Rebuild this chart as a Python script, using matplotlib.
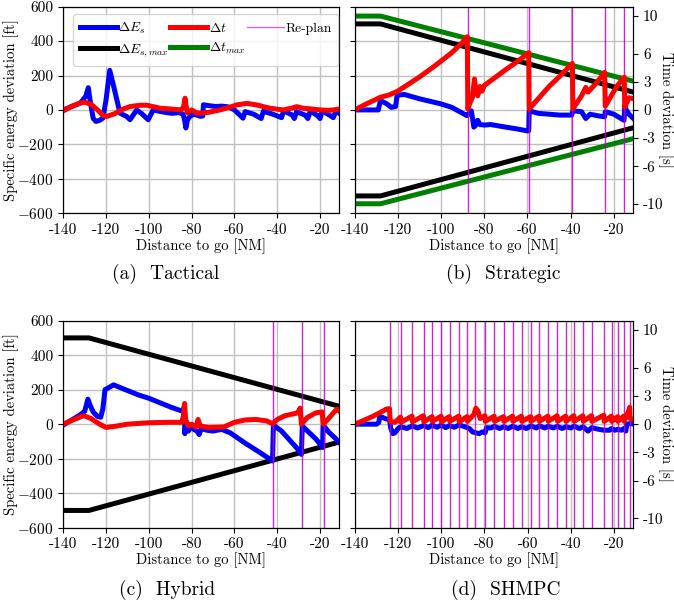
import matplotlib
matplotlib.use('Agg')
import matplotlib.pyplot as plt
from matplotlib.lines import Line2D

plt.rcParams['font.family'] = 'serif'
plt.rcParams['font.serif'] = ['cmr10', 'DejaVu Serif']
plt.rcParams['mathtext.fontset'] = 'cm'
plt.rcParams['axes.unicode_minus'] = False
plt.rcParams['axes.formatter.use_mathtext'] = True

# ---------------- data ----------------
xticks = [-140, -120, -100, -80, -60, -40, -20]
xticklabels = ['-140', '-120', '-100', '-80', '-60', '-40', '-20']
e_ticks = [-600, -400, -200, 0, 200, 400, 600]
e_ticklabels = ['$-$600', '$-$400', '$-$200', '0', '200', '400', '600']
t_ticks = [-10, -6, -3, 0, 3, 6, 10]
t_ticklabels = ['-10', '-6', '-3', '0', '3', '6', '10']

bound_x = [-140, -128, -10]
es_max = [500, 500, 100]
t_max = [10, 10, 3]

# (a) Tactical
a_es = [(-140, 0), (-136, 20), (-132, 40), (-129.5, 80), (-128.3, 129), (-127.3, 40),
        (-126, -50), (-124.7, -67), (-123, -60), (-121.5, -48), (-120, 60), (-118.3, 230),
        (-116.5, 140), (-113.5, -19), (-110.4, -38), (-108.8, -57), (-105.7, 0), (-103.5, -20),
        (-100.3, -57), (-98, 0), (-95, -8), (-92, -15), (-89, -20), (-86, -15), (-84, -25),
        (-83.3, -60), (-82.7, -105), (-82, -60), (-81, -40), (-79.3, -25), (-77.5, -30),
        (-76, -37), (-74.8, -35), (-74.5, 30), (-72, 25), (-69, 20), (-66, 22), (-63, 18),
        (-60, 0), (-56, -48), (-55, -10), (-51, -25), (-47.5, -50), (-46.5, -8), (-42, -25),
        (-38, -45), (-37, -5), (-33, -30), (-32, -50), (-31, -10), (-27, -30), (-25.7, -50),
        (-24.5, -5), (-21, -35), (-20, -50), (-19, -5), (-15, -35), (-13.8, -45), (-12.5, -5),
        (-11, -20)]
a_dt = [(-140, -0.1), (-136, 0.4), (-132, 0.75), (-129.9, 0.82), (-127, 0.6), (-124, 0.0),
        (-121.5, -0.55), (-119.7, -0.7), (-116, -0.4), (-112, 0.1), (-108.8, 0.36), (-104, 0.5),
        (-101, 0.5), (-97, 0.3), (-94.8, 0.18), (-90, 0.1), (-85, 0.0), (-83.8, 0.3),
        (-83.1, 1.25), (-82.5, 0.3), (-82, -0.3), (-80, 0.0), (-78, -0.3), (-76, -0.35),
        (-72, -0.25), (-66.8, 0.0), (-62, 0.3), (-59, 0.53), (-54.3, 0.7), (-49.6, 0.53),
        (-43.4, 0.18), (-37.2, 0.0), (-33, 0.2), (-30.9, 0.35), (-28, 0.18), (-24, 0.1),
        (-20, 0.0), (-16, -0.05), (-13.8, 0.0), (-11, 0.1)]

# (b) Strategic
b_es = [(-140, 0), (-129, 0), (-128, 55), (-125, 35), (-123, 15), (-121, 20), (-120.3, 85),
        (-117, 90), (-110, 65), (-100, 35), (-95, 15), (-88, -33), (-87, -20), (-86, -5),
        (-85.5, -40), (-84.8, -100), (-84, -90), (-83, -60), (-82, -85), (-80, -88), (-77, -85),
        (-70, -100), (-65, -110), (-60, -122), (-59.4, -120), (-59.2, -5), (-55, -20),
        (-50, -25), (-45, -30), (-39.5, -30), (-39, -5), (-35, -10), (-33, -50), (-31, -25),
        (-27, -35), (-24.3, -40), (-24, -10), (-20, -25), (-16, -55), (-15.3, -60), (-15, 15),
        (-13, -25), (-11, -50)]
b_dt = [(-140, 0.0), (-134, 0.7), (-128, 1.35), (-124, 1.6), (-120, 2.0), (-116, 2.6),
        (-110, 3.5), (-104, 4.5), (-100, 5.2), (-95, 6.1), (-90, 7.2), (-87.8, 7.8),
        (-87.6, 0.1), (-86.5, 0.8), (-85.5, 1.3), (-84.5, 3.3), (-84, 2.2), (-83, 1.5),
        (-82, 2.5), (-81, 2.0), (-80, 2.6), (-70, 4.3), (-65, 5.1), (-59.4, 6.1), (-59.2, 0.1),
        (-50, 2.5), (-45, 3.6), (-39.2, 4.95), (-39, 0.1), (-35, 1.5), (-33, 2.4), (-32, 1.9),
        (-28, 2.9), (-24.3, 4.0), (-24, 0.4), (-20, 2.0), (-18, 2.7), (-15.2, 3.5), (-15, 0.3),
        (-13, 1.3), (-11, 1.2)]
b_replan = [-87.5, -59.3, -39.2, -24.1, -15.1]

# (c) Hybrid
c_es = [(-140, -5), (-136, 25), (-132, 55), (-130, 75), (-128.5, 145), (-127.5, 110),
        (-126, 70), (-124, 45), (-122.5, 40), (-121.5, 90), (-120.5, 200), (-119, 210),
        (-116.5, 228), (-113, 210), (-110, 195), (-105, 170), (-100, 150), (-95, 125),
        (-90, 100), (-85.5, 80), (-84, 75), (-83.5, 100), (-83.2, -55), (-82.5, 10),
        (-81.5, -40), (-80.5, -15), (-79, -30), (-77.5, -40), (-76.5, -60), (-75.5, -25),
        (-73, -35), (-70, -40), (-66, -30), (-62, -50), (-55, -110), (-48, -165),
        (-42.2, -213), (-41.8, -5), (-38, -40), (-34, -95), (-30, -150), (-28.7, -175),
        (-28.3, -10), (-25, -50), (-22, -85), (-18.8, -135), (-18.5, -5), (-16, -45),
        (-13, -80), (-11, -106)]
c_dt = [(-140, 0.0), (-135, 0.5), (-130.5, 0.9), (-127, 0.6), (-123, 0.0), (-120, -0.35),
        (-115, -0.2), (-110, 0.0), (-100, 0.15), (-90, 0.2), (-84.5, 0.2), (-83.8, 1.0),
        (-83.3, 2.2), (-82.8, 0.5), (-81.5, -0.2), (-80, 0.0), (-78, -0.3), (-77, 0.5),
        (-76, -0.2), (-72, -0.35), (-65, -0.3), (-60, 0.2), (-55, 0.45), (-50, 0.5),
        (-45, 0.35), (-42.2, 0.05), (-40, 0.5), (-36.4, 0.9), (-30.5, 1.2), (-29.3, 1.7),
        (-28.7, 0.0), (-26, 0.7), (-22, 1.2), (-19, 1.3), (-18.5, 0.0), (-16, 0.6),
        (-13, 1.4), (-12, 1.6), (-11, 1.4)]
c_replan = [-41.9, -28.3, -18.2]

# (d) SHMPC
d_es = [(-140, 0), (-130, 0), (-129, 10), (-128.5, 45), (-127, 38), (-125.5, 30), (-124, 28),
        (-123.5, -20), (-122.5, -55), (-121.5, -50), (-120, -25), (-118.7, -15), (-116, -25),
        (-113.5, -10), (-111, -22), (-108.2, -8), (-106, -20), (-104.2, -5), (-102, -18),
        (-100, -5), (-98, -20), (-96.2, -8), (-94, -18), (-91.8, -5), (-89, -15), (-87, -25),
        (-85.5, -45), (-84, -50), (-82.5, -55), (-81, -45), (-79.7, -50), (-79, -20),
        (-77, -22), (-75.4, -12), (-73, -25), (-71.1, -15), (-69, -25), (-66.9, -12),
        (-64.5, -25), (-62.8, -15), (-60.5, -25), (-58.5, -10), (-56, -22), (-54.6, -10),
        (-52, -22), (-50.5, -12), (-48, -22), (-46.2, -12), (-44, -25), (-42.3, -15),
        (-40, -22), (-38.5, -12), (-36, -25), (-34.3, -15), (-32, -40), (-30.3, -20),
        (-27, -30), (-24.6, -35), (-22, -35), (-21.1, -25), (-19.5, -35), (-18.2, -30),
        (-16.5, -35), (-15.4, -25), (-14.5, -40), (-14, 0), (-12, 5), (-11, 0)]
d_dt = [(-140, 0.0), (-132, 0.8), (-127, 1.4), (-125.5, 1.6), (-124, 1.65), (-123.7, 0.3),
        (-121.5, 0.2), (-118.9, 0.75), (-118.7, 0.2), (-113.6, 0.85), (-113.4, 0.25),
        (-108.3, 0.9), (-108.1, 0.25), (-104.3, 0.8), (-104.1, 0.3), (-100.1, 0.85),
        (-99.9, 0.25), (-96.3, 0.8), (-96.1, 0.3), (-91.9, 0.85), (-91.7, 0.25), (-88.1, 0.8),
        (-87.9, 0.3), (-85, 1.0), (-84, 1.7), (-83, 1.4), (-82, 0.6), (-79.8, 0.9),
        (-79.6, 0.3), (-75.5, 0.85), (-75.3, 0.3), (-71.2, 0.8), (-71.0, 0.3), (-67.0, 0.85),
        (-66.8, 0.3), (-62.9, 0.85), (-62.7, 0.3), (-58.6, 0.8), (-58.4, 0.3), (-54.7, 0.85),
        (-54.5, 0.3), (-50.6, 0.85), (-50.4, 0.3), (-46.3, 0.9), (-46.1, 0.3), (-42.4, 0.85),
        (-42.2, 0.3), (-38.6, 0.9), (-38.4, 0.3), (-34.4, 0.9), (-34.2, 0.3), (-30.4, 0.9),
        (-30.2, 0.3), (-24.7, 0.95), (-24.5, 0.3), (-21.2, 0.85), (-21.0, 0.3), (-18.3, 0.8),
        (-18.1, 0.3), (-15.5, 0.85), (-15.3, 0.3), (-13, 1.5), (-12.7, 1.8), (-12.5, 0.6),
        (-11, 0.5)]
d_replan = [-123.8, -118.8, -113.5, -108.2, -104.2, -100.0, -96.2, -91.8, -88.0, -84.2,
            -79.7, -75.4, -71.1, -66.9, -62.8, -58.5, -54.6, -50.5, -46.2, -42.3, -38.5,
            -34.3, -30.3, -24.6, -21.1, -18.2, -15.4, -12.6]

captions = ['(a)  Tactical', '(b)  Strategic', '(c)  Hybrid', '(d)  SHMPC']

# ---------------- style ----------------
BLUE = '#0000ff'
RED = '#ff0000'
GREEN = '#008000'
LW = 3.6
FS = 11
LFS = 10.5
GRID = '#c0c0c0'

fig = plt.figure(figsize=(6.74, 6.09), dpi=100)
positions = [[0.0939, 0.650, 0.4095, 0.339],
             [0.526, 0.650, 0.4137, 0.339],
             [0.0939, 0.1335, 0.4095, 0.340],
             [0.5267, 0.1335, 0.4130, 0.340]]
series = [(a_es, a_dt, []), (b_es, b_dt, b_replan),
          (c_es, c_dt, c_replan), (d_es, d_dt, d_replan)]

axes = []
for i, (pos, (es, dt, rp)) in enumerate(zip(positions, series)):
    ax = fig.add_axes(pos)
    ax2 = ax.twinx()
    left = (i % 2 == 0)
    ax.set_xlim(-140, -11)
    ax.set_ylim(-600, 600)
    ax.set_xticks(xticks)
    ax.set_xticklabels(xticklabels, fontsize=FS)
    ax.set_yticks(e_ticks)
    if left:
        ax.set_yticklabels(e_ticklabels, fontsize=FS)
        ax.set_ylabel('Specific energy deviation [ft]', fontsize=LFS, va='center', ha='center')
        ax.yaxis.set_label_coords(-0.19, 0.5)
    else:
        ax.set_yticklabels([])
    ax.set_xlabel('Distance to go [NM]', fontsize=LFS, labelpad=1)
    ax.grid(True, color=GRID, lw=1.0)
    ax.set_axisbelow(True)
    ax2.set_ylim(-11, 11)
    if left:
        ax2.set_yticks([])
    else:
        ax2.set_yticks(t_ticks)
        ax2.set_yticklabels(t_ticklabels, fontsize=FS)
        ax2.set_ylabel('Time deviation [s]', fontsize=LFS, rotation=270,
                       va='center', ha='center')
        ax2.yaxis.set_label_coords(1.115, 0.5)

    ex, ey = zip(*es)
    tx, ty = zip(*dt)
    if i in (1, 2):
        ax.plot(bound_x, es_max, color='black', lw=LW, zorder=2)
        ax.plot(bound_x, [-v for v in es_max], color='black', lw=LW, zorder=2)
    ax.plot(ex, ey, color=BLUE, lw=LW, zorder=3)
    if i == 1:
        ax2.plot(bound_x, t_max, color=GREEN, lw=LW, zorder=1)
        ax2.plot(bound_x, [-v for v in t_max], color=GREEN, lw=LW, zorder=1)
    for xv in rp:
        ax2.axvline(xv, color='m', lw=1.0, alpha=0.85, zorder=1.5)
    ax2.plot(tx, ty, color=RED, lw=LW, zorder=2)
    axes.append((ax, ax2))

# legend in (a)
handles = [Line2D([], [], color=BLUE, lw=LW), Line2D([], [], color='black', lw=LW),
           Line2D([], [], color=RED, lw=LW), Line2D([], [], color=GREEN, lw=LW),
           Line2D([], [], color='m', lw=1.0, alpha=0.6)]
labels = [r'$\Delta E_s$', r'$\Delta E_{s,max}$', r'$\Delta t$', r'$\Delta t_{max}$', 'Re-plan']
axes[0][1].legend(handles, labels, ncol=3, loc='upper left', bbox_to_anchor=(0.035, 0.964),
                  borderaxespad=0, fontsize=9.8, handlelength=2.7, handletextpad=0.1,
                  columnspacing=0.15, labelspacing=0.45, borderpad=0.5)

cap_pos = [(0.245, 0.550), (0.747, 0.550), (0.248, 0.031), (0.751, 0.031)]
for (cx, cy), txt in zip(cap_pos, captions):
    fig.text(cx, cy, txt, ha='center', va='center', fontsize=14)

fig.savefig('out.png', dpi=100)
